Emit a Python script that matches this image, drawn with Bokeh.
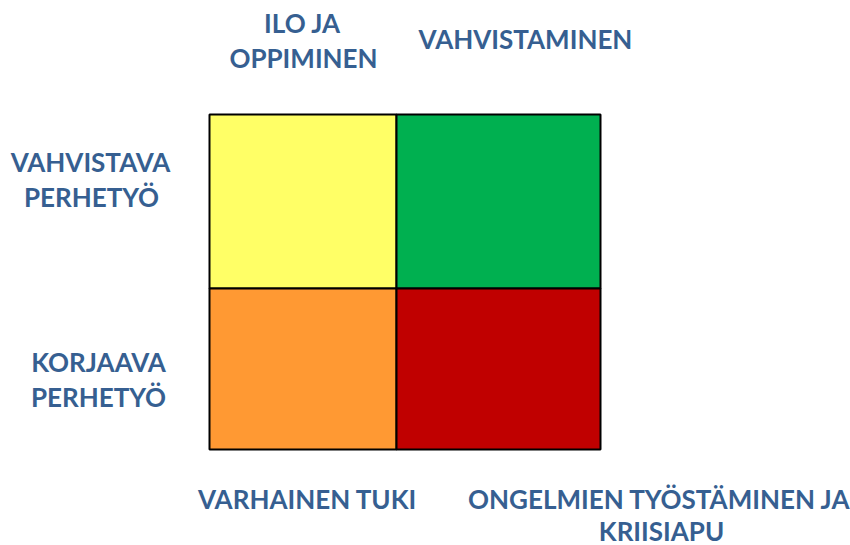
from bokeh.plotting import figure
from bokeh.models import Range1d, ColumnDataSource
from bokeh.core.properties import value
from bokeh.embed import file_html
from bokeh.resources import INLINE

# ---- data ----
top_labels = ["ILO JA\nOPPIMINEN", "VAHVISTAMINEN"]
bottom_labels = ["VARHAINEN TUKI", "ONGELMIEN TYÖSTÄMINEN JA\nKRIISIAPU"]
row_labels = ["VAHVISTAVA\nPERHETYÖ", "KORJAAVA\nPERHETYÖ"]
cell_col = [0, 1, 0, 1]
cell_row = [1, 1, 0, 0]
cell_colors = ["#FFFF66", "#00B050", "#FF9933", "#C00000"]

# ---- layout: picture-pixel coordinates (y grows downward via flipped range) ----
W, H = 850, 545
COL_EDGES = [209, 396, 600]   # left, middle, right border
ROW_EDGES = [449, 288, 114]   # bottom, middle, top border

p = figure(width=W, height=H, output_backend="svg", toolbar_location=None,
           x_range=Range1d(0, W), y_range=Range1d(H, 0),
           min_border=0, min_border_left=0, min_border_right=0,
           min_border_top=0, min_border_bottom=0)
p.axis.visible = False
p.grid.visible = False
p.outline_line_color = None
p.background_fill_color = "white"
p.border_fill_color = "white"

src = ColumnDataSource(dict(
    left=[COL_EDGES[c] for c in cell_col], right=[COL_EDGES[c + 1] for c in cell_col],
    bottom=[ROW_EDGES[r] for r in cell_row], top=[ROW_EDGES[r + 1] for r in cell_row],
    color=cell_colors))
p.quad(left="left", right="right", bottom="bottom", top="top", source=src,
       fill_color="color", line_color="black", line_width=2)

TXT = "#365F91"
FONT = value("Lato")
SIZE = "26px"
DY = -11  # renderer baseline offset correction

# label line placements: (center x, baseline y) in picture pixels
top_pos = [[(302, 33), (303, 68)], [(525, 49)]]
bottom_pos = [[(307, 509)], [(659, 509), (661, 541)]]
row_pos = [[(90, 172), (91, 207)], [(98, 372), (98, 407)]]

xs, ys, ts = [], [], []
for labels, positions in ((top_labels, top_pos), (bottom_labels, bottom_pos), (row_labels, row_pos)):
    for lab, pos in zip(labels, positions):
        for line, (px, py) in zip(lab.split("\n"), pos):
            xs.append(px); ys.append(py + DY); ts.append(line)

p.text(x=xs, y=ys, text=ts, text_font=FONT, text_font_style="bold",
       text_font_size=SIZE, text_color=TXT, text_align="center",
       text_baseline="alphabetic")

open("out.html", "w").write(file_html(p, INLINE))
